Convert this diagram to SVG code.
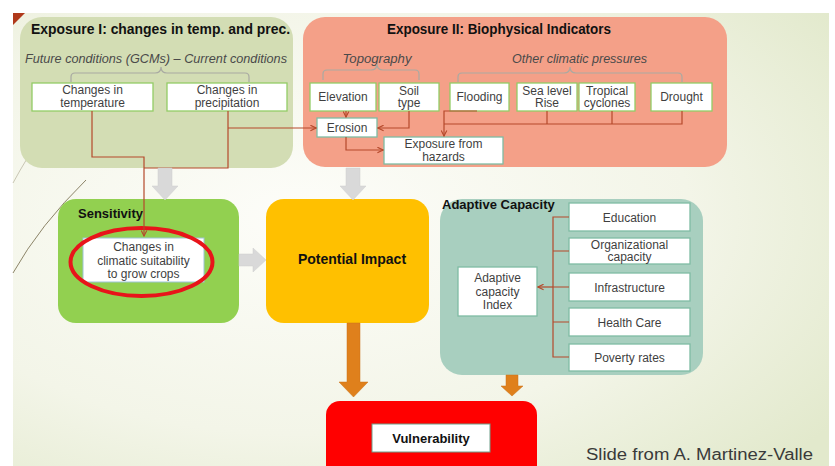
<svg xmlns="http://www.w3.org/2000/svg" width="835" height="466" viewBox="0 0 835 466">
<defs>
<radialGradient id="bg" cx="0.35" cy="0.45" r="0.8">
<stop offset="0" stop-color="#fdfdf9"/>
<stop offset="0.6" stop-color="#f3f5e8"/>
<stop offset="1" stop-color="#e2e9cc"/>
</radialGradient>
<marker id="ah" viewBox="0 0 10 10" refX="9" refY="5" markerWidth="7" markerHeight="7" orient="auto" markerUnits="userSpaceOnUse">
<path d="M1,1 L9,5 L1,9" fill="none" stroke="#b5492b" stroke-width="1.6"/>
</marker>
<style>
.box{fill:#ffffff;stroke:#93cc66;stroke-width:1.3}
.tbox{fill:#ffffff;stroke:#7fbca4;stroke-width:1.3}
.t{font-family:"Liberation Sans",Arial,sans-serif;font-size:12px;fill:#3f3f3f;text-anchor:middle}
.it{font-family:"Liberation Sans",Arial,sans-serif;font-size:12px;font-style:italic;fill:#4a4a4a;text-anchor:middle}
.h{font-family:"Liberation Sans",Arial,sans-serif;font-weight:bold;fill:#111111}
.conn{fill:none;stroke:#b5492b;stroke-width:1.2}
.brace{fill:none;stroke:#a9aaa2;stroke-width:1.2}
.garrow{fill:#d9d9d9;stroke:#cfcfcf;stroke-width:0.5}
.oarrow{fill:#df801c;stroke:#c9721a;stroke-width:0.5}
</style>
</defs>
<rect x="0" y="0" width="835" height="466" fill="#ffffff"/>
<rect x="13" y="13" width="816" height="453" fill="url(#bg)"/>
<path d="M13,13 L25,13 L13,25 Z" fill="#b0391b"/>
<path d="M86,180 Q40,225 13,273" fill="none" stroke="#8c8468" stroke-width="1"/>
<path d="M28,157 Q20,170 13,183" fill="none" stroke="#c9c6b4" stroke-width="1"/>

<g id="exposure1">
<rect x="20" y="17" width="273" height="151" rx="22" fill="#d3ddb4"/>
<text class="h" x="31" y="34" font-size="14" textLength="259" lengthAdjust="spacingAndGlyphs">Exposure I: changes in temp. and prec.</text>
<text class="it" x="156" y="63" textLength="262" lengthAdjust="spacingAndGlyphs">Future conditions (GCMs) – Current conditions</text>
<path class="brace" d="M71,82 V77 Q71,73 75,73 H155 Q161,73 161,67 Q161,73 167,73 H245 Q249,73 249,77 V82"/>
</g>
<g id="changes-temperature">
<rect class="box" x="32" y="83" width="121" height="28"/>
<text class="t" x="92.5" y="94">Changes in</text>
<text class="t" x="92.5" y="107">temperature</text>
</g>
<g id="changes-precipitation">
<rect class="box" x="167" y="83" width="120" height="28"/>
<text class="t" x="227" y="94">Changes in</text>
<text class="t" x="227" y="107">precipitation</text>
</g>

<g id="exposure2">
<rect x="303" y="17" width="424" height="150" rx="22" fill="#f4a088"/>
<text class="h" x="387" y="34" font-size="14" textLength="224" lengthAdjust="spacingAndGlyphs">Exposure II: Biophysical Indicators</text>
<text class="it" x="377" y="63" textLength="69" lengthAdjust="spacingAndGlyphs">Topography</text>
<text class="it" x="579.5" y="63" textLength="135" lengthAdjust="spacingAndGlyphs">Other climatic pressures</text>
<path class="brace" d="M323,80 V74 Q323,70 327,70 H371 Q377,70 377,64 Q377,70 383,70 H415 Q419,70 419,74 V80"/>
<path class="brace" d="M458,82 V77 Q458,73 462,73 H564 Q570,73 570,67 Q570,73 576,73 H678 Q682,73 682,77 V82"/>
</g>
<g id="elevation">
<rect class="box" x="310" y="83" width="66" height="28"/>
<text class="t" x="343" y="101">Elevation</text>
</g>
<g id="soil-type">
<rect class="box" x="379" y="83" width="60" height="28"/>
<text class="t" x="409" y="94.5">Soil</text>
<text class="t" x="409" y="107">type</text>
</g>
<g id="flooding">
<rect class="box" x="450" y="83" width="59" height="28"/>
<text class="t" x="479.5" y="101">Flooding</text>
</g>
<g id="sea-level-rise">
<rect class="box" x="517" y="83" width="60" height="28"/>
<text class="t" x="547" y="94.5" font-size="11.5">Sea level</text>
<text class="t" x="547" y="107" font-size="11.5">Rise</text>
</g>
<g id="tropical-cyclones">
<rect class="box" x="579" y="83" width="56" height="28"/>
<text class="t" x="607" y="94.5" font-size="11.5">Tropical</text>
<text class="t" x="607" y="107" font-size="11.5">cyclones</text>
</g>
<g id="drought">
<rect class="box" x="651" y="83" width="61" height="28"/>
<text class="t" x="681.5" y="101">Drought</text>
</g>
<g id="erosion">
<rect class="tbox" x="317" y="118" width="60" height="19"/>
<text class="t" x="347" y="132">Erosion</text>
</g>
<g id="exposure-hazards">
<rect class="tbox" x="384" y="137" width="119" height="27"/>
<text class="t" x="443.5" y="148">Exposure from</text>
<text class="t" x="443.5" y="161">hazards</text>
</g>

<g id="sensitivity">
<rect x="58" y="199" width="181" height="124" rx="18" fill="#92d050"/>
<text class="h" x="78" y="218" font-size="13">Sensitivity</text>
</g>
<g id="climatic-suitability">
<rect x="83" y="238" width="121" height="44" fill="#ffffff" stroke="#9cc4d6" stroke-width="1"/>
<text class="t" x="143.5" y="251" font-size="12.5">Changes in</text>
<text class="t" x="143.5" y="264.5" font-size="12.5">climatic suitability</text>
<text class="t" x="143.5" y="278" font-size="12.5">to grow crops</text>
<ellipse cx="141.5" cy="262" rx="71" ry="34" fill="none" stroke="#e8141a" stroke-width="4"/>
</g>

<g id="potential-impact">
<rect x="266" y="199" width="163" height="124" rx="18" fill="#ffc000"/>
<text class="h" x="352" y="264" font-size="14" text-anchor="middle">Potential Impact</text>
</g>

<g id="adaptive-capacity">
<rect x="440" y="199" width="263" height="176" rx="22" fill="#a8cfbf"/>
<text class="h" x="442" y="209" font-size="13">Adaptive Capacity</text>
</g>
<g id="ac-index">
<rect class="tbox" x="458" y="267" width="79" height="49"/>
<text class="t" x="497.5" y="282">Adaptive</text>
<text class="t" x="497.5" y="295.5">capacity</text>
<text class="t" x="497.5" y="309">Index</text>
</g>
<g id="education">
<rect class="tbox" x="569" y="203" width="121" height="28"/>
<text class="t" x="629.5" y="221.5">Education</text>
</g>
<g id="organizational">
<rect class="tbox" x="569" y="238" width="121" height="26"/>
<text class="t" x="629.5" y="248.5">Organizational</text>
<text class="t" x="629.5" y="261">capacity</text>
</g>
<g id="infrastructure">
<rect class="tbox" x="569" y="273" width="121" height="28"/>
<text class="t" x="629.5" y="292">Infrastructure</text>
</g>
<g id="health-care">
<rect class="tbox" x="569" y="308" width="121" height="28"/>
<text class="t" x="629.5" y="327">Health Care</text>
</g>
<g id="poverty-rates">
<rect class="tbox" x="569" y="344" width="121" height="27"/>
<text class="t" x="629.5" y="362">Poverty rates</text>
</g>

<g id="vulnerability">
<rect x="326" y="401" width="211" height="80" rx="14" fill="#ff0000"/>
<rect x="372" y="424" width="118" height="28" fill="#ffffff" stroke="#6f9f8a" stroke-width="1"/>
<text class="h" x="431" y="443" font-size="13" text-anchor="middle">Vulnerability</text>
</g>

<g id="connectors">
<path class="conn" d="M92,111 V157 H144 V236" marker-end="url(#ah)"/>
<path class="conn" d="M228,111 V168 H144"/>
<path class="conn" d="M228,128 H316" marker-end="url(#ah)"/>
<path class="conn" d="M346,111 V117" marker-end="url(#ah)"/>
<path class="conn" d="M409,111 V128 H378" marker-end="url(#ah)"/>
<path class="conn" d="M346,137 V150 H383" marker-end="url(#ah)"/>
<path class="conn" d="M477,111 H444 V136" marker-end="url(#ah)"/>
<path class="conn" d="M444,124 H682 V111 M547,111 V124 M612,111 V124"/>
<path class="conn" d="M569,217 H553 V357 H569 M553,251 H569 M553,322 H569 M553,287 H569"/>
<path class="conn" d="M553,287 H538" marker-end="url(#ah)"/>
<polygon class="garrow" points="158,168 172,168 172,186 178,186 165,200 152,186 158,186"/>
<polygon class="garrow" points="346,168 360,168 360,186 366,186 353,200 340,186 346,186"/>
<polygon class="garrow" points="239,254 253,254 253,248 266,260 253,272 253,266 239,266"/>
<polygon class="oarrow" points="347,323 360,323 360,382 368,382 353.5,397 339,382 347,382"/>
<polygon class="oarrow" points="506,375 518,375 518,386 523,386 512,396 501,386 506,386"/>
</g>

<text x="586" y="460" font-family="'Liberation Sans',Arial,sans-serif" font-size="16" fill="#3a3a3a" textLength="227" lengthAdjust="spacingAndGlyphs">Slide from A. Martinez-Valle</text>
</svg>
